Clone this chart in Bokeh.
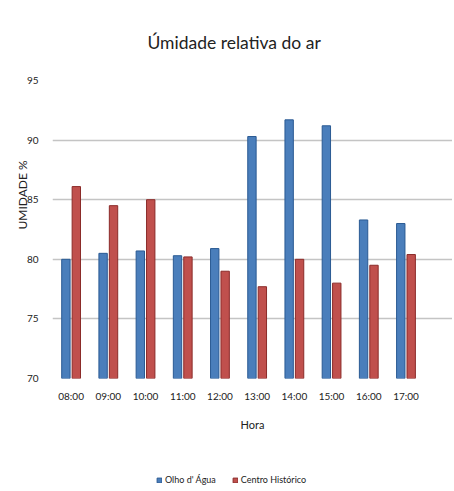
from bokeh.plotting import figure
from bokeh.models import Range1d, FixedTicker, Legend, LegendItem, ColumnDataSource, Title
from bokeh.layouts import column
from bokeh.embed import file_html
from bokeh.resources import INLINE

hours = ["08:00", "09:00", "10:00", "11:00", "12:00", "13:00", "14:00", "15:00", "16:00", "17:00"]
olho_dagua = [80.0, 80.5, 80.7, 80.3, 80.9, 90.3, 91.7, 91.2, 83.3, 83.0]
centro_historico = [86.1, 84.5, 85.0, 80.2, 79.0, 77.7, 80.0, 78.0, 79.5, 80.4]
y_ticks = [70, 75, 80, 85, 90, 95]
series_names = ["Olho d' Água", "Centro Histórico"]

FONT = "Lato"
BLUE, BLUE_EDGE = "#4a7ebb", "#2a5a93"
RED, RED_EDGE = "#c0504d", "#8b2b29"

xc = [i + 0.5 for i in range(len(hours))]
src = ColumnDataSource(dict(
    xb=[x - 0.14 for x in xc], xr=[x + 0.14 for x in xc],
    ob=olho_dagua, cr=centro_historico,
))

p = figure(width=452, height=438, output_backend="svg", toolbar_location=None,
           x_range=Range1d(0, 10.75), y_range=Range1d(70, 95),
           min_border_left=52, min_border_right=0, min_border_top=80, min_border_bottom=60)
p.outline_line_color = None
p.background_fill_color = "white"
p.border_fill_color = "white"

p.vbar(x="xb", top="ob", bottom=70, width=0.225, source=src,
       fill_color=BLUE, line_color=BLUE_EDGE, line_width=1)
p.vbar(x="xr", top="cr", bottom=70, width=0.225, source=src,
       fill_color=RED, line_color=RED_EDGE, line_width=1)

p.xgrid.grid_line_color = None
p.ygrid.grid_line_color = "#c4c4c4"
p.ygrid.grid_line_width = 1.5
p.ygrid.ticker = FixedTicker(ticks=y_ticks)

p.title.text = "Úmidade relativa do ar"
p.title.align = "left"
p.title.offset = 95
p.title.standoff = 55
p.title.text_font = FONT
p.title.text_font_size = "17.5px"
p.title.text_font_style = "normal"
p.title.text_color = "#222222"

xa = p.xaxis[0]
xa.ticker = FixedTicker(ticks=xc)
xa.major_label_overrides = {x: h for x, h in zip(xc, hours)}
xa.axis_line_color = None
xa.major_tick_line_color = None
xa.minor_tick_line_color = None
xa.major_tick_out = 0
xa.major_label_standoff = 11
xa.major_label_text_font = FONT
xa.major_label_text_font_size = "10px"
xa.major_label_text_color = "#222222"
xa.axis_label = "Hora"
xa.axis_label_text_font = FONT
xa.axis_label_text_font_size = "11px"
xa.axis_label_text_font_style = "normal"
xa.axis_label_text_color = "#222222"
xa.axis_label_standoff = 13

ya = p.yaxis[0]
ya.ticker = FixedTicker(ticks=y_ticks)
ya.axis_line_color = None
ya.major_tick_line_color = None
ya.minor_tick_line_color = None
ya.major_tick_out = 0
ya.major_label_standoff = 14
ya.major_label_text_font = FONT
ya.major_label_text_font_size = "10px"
ya.major_label_text_color = "#222222"

ylab = Title(text="UMIDADE %", align="left", offset=149, standoff=-12,
             text_font=FONT, text_font_size="12px", text_font_style="normal",
             text_color="#222222")
p.add_layout(ylab, "left")

# legend strip below the chart (its renderers lie far outside this strip's view)
p2 = figure(width=452, height=51, output_backend="svg", toolbar_location=None,
            x_range=Range1d(-100, -99), y_range=Range1d(0, 1),
            min_border_left=0, min_border_right=0, min_border_top=0, min_border_bottom=0)
p2.axis.visible = False
p2.grid.visible = False
p2.outline_line_color = None
p2.border_fill_color = "white"
lb = p2.vbar(x="xb", top="ob", bottom=70, width=0.225, source=src,
             fill_color=BLUE, line_color=BLUE_EDGE)
lr = p2.vbar(x="xr", top="cr", bottom=70, width=0.225, source=src,
             fill_color=RED, line_color=RED_EDGE)
legend = Legend(items=[LegendItem(label=series_names[0], renderers=[lb]),
                       LegendItem(label=series_names[1], renderers=[lr])],
                orientation="horizontal", location=(104, 4),
                label_text_font=FONT, label_text_font_size="9px",
                label_text_color="#222222", glyph_width=6, glyph_height=6,
                label_standoff=3, spacing=16, padding=0, margin=0,
                border_line_color=None, background_fill_alpha=0)
p2.add_layout(legend, "center")

layout = column(p, p2, spacing=0)
open("out.html", "w").write(file_html(layout, INLINE))
